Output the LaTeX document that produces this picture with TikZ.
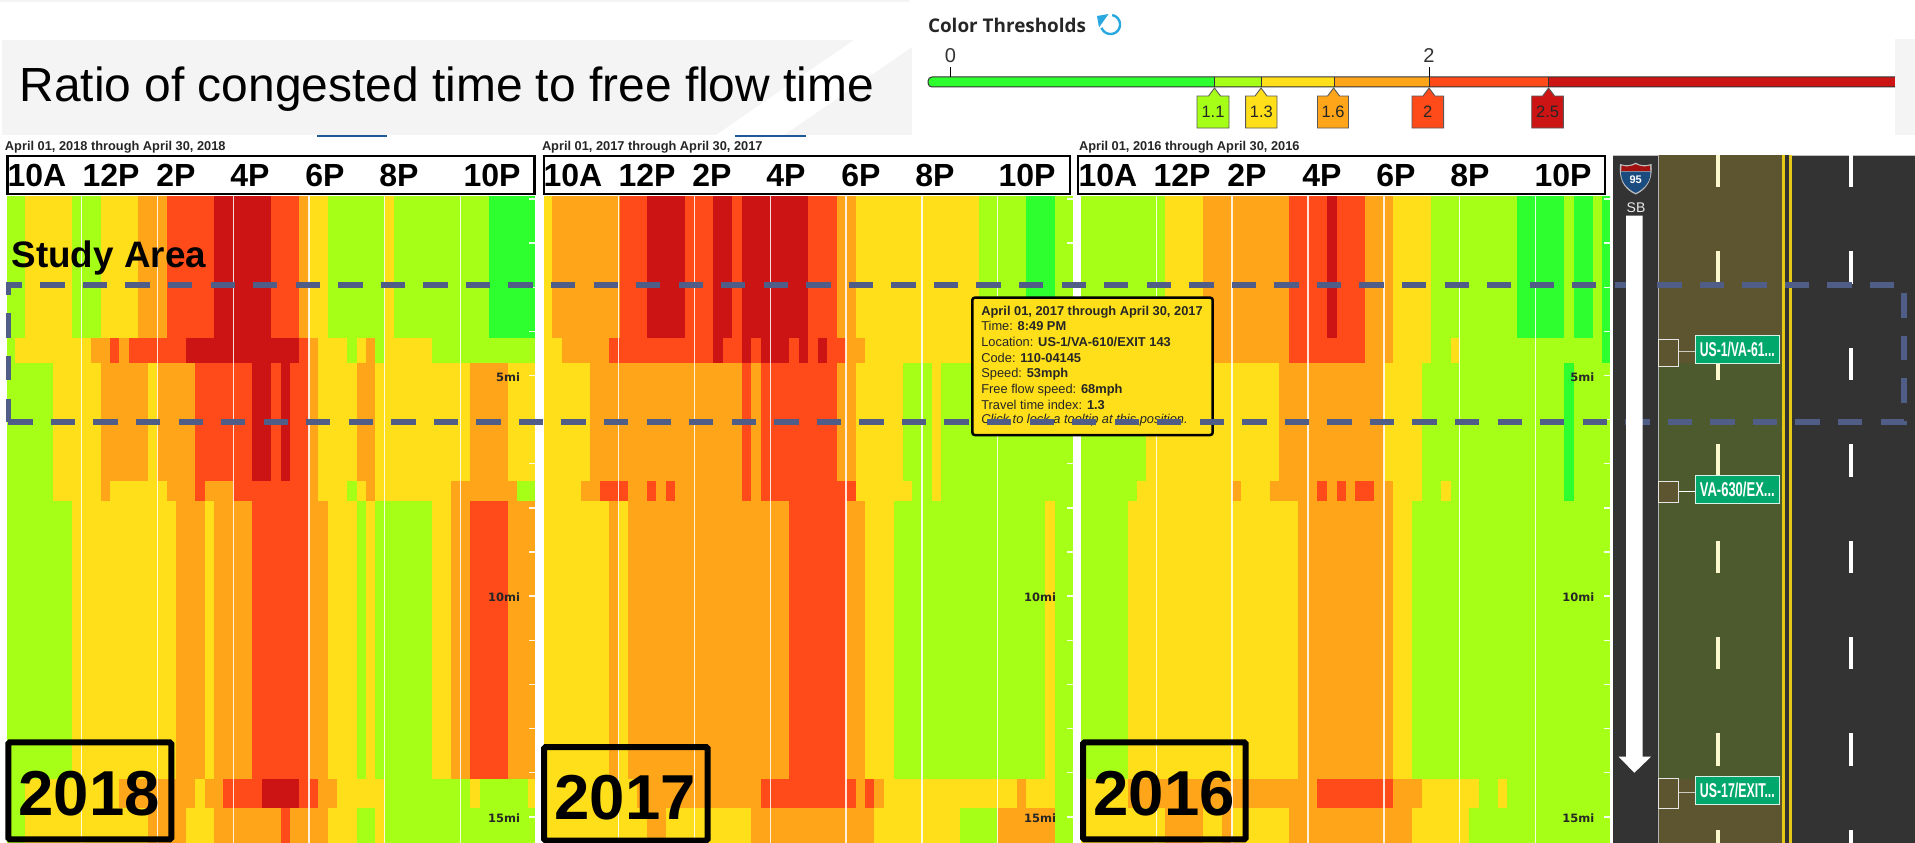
\documentclass[tikz,border=0pt]{standalone}
\usepackage{fontspec}
\setmainfont{Liberation Sans}
\newfontfamily\monofam{DejaVu Sans}
\newfontfamily\uifam{Open Sans}
\newcommand\fsz[1]{\fontsize{#1}{#1}\selectfont}
\definecolor{hL}{HTML}{A6FF17}
\definecolor{hY}{HTML}{FFDF1A}
\definecolor{hO}{HTML}{FFA51A}
\definecolor{hR}{HTML}{FF4A1A}
\definecolor{hD}{HTML}{CC1414}
\definecolor{hG}{HTML}{2EFF2E}
\definecolor{bannerc}{HTML}{F4F4F4}
\definecolor{tabc}{HTML}{1F5A96}
\definecolor{dashc}{HTML}{4F5D87}
\definecolor{roadc}{HTML}{333333}
\definecolor{olivea}{HTML}{5C5530}
\definecolor{oliveb}{HTML}{4D5A2E}
\definecolor{signc}{HTML}{00A86B}
\definecolor{iconc}{HTML}{29A8E0}
\definecolor{creamc}{HTML}{FAF8CC}
\newcommand\hrow[2]{\foreach \e/\c in {#2}{\fill[fill=h\c] ({\pO+\e/3},#1) rectangle (\pR,843);}}
\newcommand\tiprow[3]{\node[txt,anchor=base west,text=black!85] (tip#1) at (981.3,#2) {\fsz{12.85}#3};}
\tikzset{
  txt/.style={inner sep=0,outer sep=0},
  hdrbox/.style={draw=black,fill=white,line width=2.2,inner sep=0,outer sep=0,minimum height=38},
  hdrlab/.style={txt,anchor=base,font=\bfseries\fsz{32}},
  datelab/.style={txt,anchor=base west,font=\bfseries\fsz{12.8},text=black!85},
  milab/.style={txt,anchor=base east,font=\monofam\bfseries\fsz{11.5},text=black!85},
  yearbox/.style={draw=black,line width=6,rounded corners=1.5,inner sep=0,outer sep=0},
  yearlab/.style={txt,anchor=base west,font=\bfseries\fsz{63.5}},
  taglab/.style={txt,anchor=center,font=\fsz{16.5},text=black!85},
  signbox/.style={draw=white!85!signc,line width=1,fill=signc,text=white,inner sep=0,outer sep=0,minimum width=84,minimum height=28},
  bracket/.style={draw=white!90!black,line width=1,fill=olivea,inner sep=0,outer sep=0,minimum width=20.5},
}
\begin{document}
\begin{tikzpicture}[x=1pt,y=-1pt]
\clip (0,0) rectangle (1915,843);
\fill[white] (0,0) rectangle (1915,843);
% top strip and banner
\fill[bannerc] (0,0) rectangle (909,1.8);
\fill[bannerc] (2,40) rectangle (912,135);
\fill[white] (854,40) -- (716,135) -- (784,135) -- (912,47) -- (912,40) -- cycle;
\fill[bannerc] (1895,39) rectangle (1915,135);
\fill[tabc] (317,135) rectangle (387,137.2);
\fill[tabc] (735,135) rectangle (806,137.2);
\node[txt,anchor=base west,font=\fsz{47.9}] (title) at (19.5,102) {Ratio of congested time to free flow time};
% legend
\node[txt,anchor=base west,font=\uifam\bfseries\fsz{18.9},text=black!85] (legend) at (928,33) {Color Thresholds};
\draw[iconc,line width=2.4] plot[domain=-80:160,samples=30] ({1110.5+9.5*cos(\x)},{24.5+9.5*sin(\x)});
\fill[iconc] (1097,16) -- (1108.5,14) -- (1099,27.5) -- cycle;
% slider
\fill[hG,rounded corners=4] (928,77) rectangle (1220,87);
\fill[hL] (1214.5,77) rectangle (1261,87);
\fill[hY] (1261,77) rectangle (1334,87);
\fill[hO] (1334,77) rectangle (1429,87);
\fill[hR] (1429,77) rectangle (1548.5,87);
\fill[hD] (1548.5,77) rectangle (1895,87);
\draw[black!80,line width=1,rounded corners=4] (1895,77) -- (928,77) -- (928,87) -- (1895,87);
\foreach \x in {1214.5,1261,1334,1429,1548.5}{\draw[black!80,line width=0.8] (\x,77) -- (\x,87);}
\node[txt,anchor=base,font=\fsz{20},text=black!80] (lab0) at (950.5,63) {0};
\node[txt,anchor=base,font=\fsz{20},text=black!80] (lab2) at (1429,63) {2};
\draw[black,line width=1] (950.5,67) -- (950.5,77);
\draw[black,line width=1] (1429,67) -- (1429,77);
\foreach \ax/\l/\r/\c/\t in {1214.5/1197/1229/hL/1.1,1261/1245.6/1277/hY/1.3,1333.6/1317.5/1348.5/hO/1.6,1429/1412/1443.6/hR/2,1548.5/1531.7/1563.4/hD/2.5}{
  \filldraw[fill=\c,draw=black!65,line width=0.9] (\ax,88) -- ({\ax+6},96) -- (\r,96) -- (\r,128) -- (\l,128) -- (\l,96) -- ({\ax-6},96) -- cycle;
  \node[taglab] (tag\t) at ({(\l+\r)/2},112) {\t};
}
% panel 2018
\def\pO{0}\def\pR{535}
\hrow{195.7}{20/L,74/Y,216/L,302/Y,415/O,500/R,642/D,813/R,898/O,927/Y,984/L,1155/Y,1183/L,1467/G}
\hrow{338.3}{20/L,46/Y,273/O,330/R,358/O,386/R,557/D,898/R,927/O,955/Y,1041/L,1070/Y,1098/O,1126/L,1155/Y,1296/L}
\hrow{363.3}{20/L,159/Y,302/O,443/Y,472/O,586/R,756/D,813/R,842/D,870/R,927/O,955/Y,1070/O,1126/Y,1410/O,1524/Y}
\hrow{480.7}{20/L,159/Y,302/O,330/Y,500/O,586/R,614/O,699/R,927/O,955/Y,1041/L,1070/Y,1098/O,1126/Y,1353/O,1552/L}
\hrow{500.9}{20/L,216/Y,529/O,614/Y,642/O,756/R,927/O,984/Y,1070/L,1098/Y,1126/L,1296/Y,1353/O,1410/R,1524/O}
\hrow{778.7}{20/L,74/Y,358/O,586/Y,614/O,670/R,785/D,898/R,955/O,1012/Y,1155/L,1410/Y,1439/L,1583/Y}
\hrow{807.7}{20/L,74/Y,443/O,557/Y,642/O,842/R,870/O,984/Y,1070/L,1126/Y,1155/L}
% panel 2017
\def\pO{540}\def\pR{1073}
\hrow{195.7}{12/Y,36/O,240/R,321/D,435/R,520/D,577/R,605/D,805/R,890/O,947/Y,1317/L,1458/G,1546/L}
\hrow{338.3}{12/Y,65/O,207/R,520/D,548/R,605/D,634/R,662/D,747/R,776/D,805/R,833/D,862/R,918/O,975/Y,1317/L}
\hrow{363.3}{12/Y,150/O,605/R,634/O,662/R,890/O,947/Y,1089/L,1175/Y,1203/L}
\hrow{480.7}{12/Y,122/O,179/R,264/O,321/R,349/O,378/R,406/O,605/R,634/O,662/R,947/Y,1117/L,1175/Y,1203/L}
\hrow{500.9}{12/Y,207/O,236/Y,264/O,747/R,918/O,975/Y,1061/L,1516/Y,1546/L}
\hrow{778.7}{12/Y,292/O,662/R,947/O,975/R,1003/O,1032/Y,1430/O,1458/Y,1546/L}
\hrow{807.7}{12/Y,321/O,378/Y,634/O,1003/Y,1260/L,1373/O,1546/L}
% panel 2016
\def\pO{1080}\def\pR{1610}
\hrow{195.7}{3/L,256/Y,370/O,626/R,740/D,770/R,855/O,940/Y,1054/L,1311/G,1452/L,1481/G,1540/L,1566/G}
\hrow{338.3}{3/L,256/Y,370/O,626/R,855/O,940/Y,1054/L,1112/Y,1140/L,1566/G}
\hrow{363.3}{3/L,199/Y,598/O,912/Y,1026/L,1452/G,1481/L}
\hrow{480.7}{3/L,171/Y,456/O,484/Y,570/O,711/R,740/O,770/R,798/O,826/R,883/O,940/Y,1026/L,1083/Y,1112/L,1452/G,1481/L}
\hrow{500.9}{3/L,143/Y,655/O,940/Y,997/L}
\hrow{778.7}{3/Y,143/O,711/R,940/O,1026/Y,1197/L,1254/Y,1282/L}
\hrow{807.7}{3/Y,256/O,370/Y,427/O,456/Y,626/O,997/Y,1168/L}
% gridlines
\foreach \x in {81.7,157.5,233.3,309,384.7,460.3,618.7,694.7,770.3,846,922,997.7,1156.3,1232,1308,1384,1459.7,1535.7}{
  \draw[white,line width=1.2,opacity=.85] (\x,195.7) -- (\x,843);
}
% ticks
\foreach \k in {0,...,14}{
  \foreach \r in {535,1073,1610}{
    \draw[white,line width=1.4,opacity=.9] ({\r-6},{199+44.13*\k}) -- (\r,{199+44.13*\k});
  }
}
\node[milab] (m5a) at (520,381) {5mi};
\node[milab] (m10a) at (520,601.7) {10mi};
\node[milab] (m15a) at (520,822.3) {15mi};
\node[milab] (m10b) at (1056,601.7) {10mi};
\node[milab] (m15b) at (1056,822.3) {15mi};
\node[milab] (m5c) at (1594.3,381) {5mi};
\node[milab] (m10c) at (1594.3,601.7) {10mi};
\node[milab] (m15c) at (1594.3,822.3) {15mi};
% dates
\node[datelab] (d18) at (5,150.5) {April 01, 2018 through April 30, 2018};
\node[datelab] (d17) at (542,150.5) {April 01, 2017 through April 30, 2017};
\node[datelab] (d16) at (1079,150.5) {April 01, 2016 through April 30, 2016};
% header boxes
\node[hdrbox,minimum width=527] (hA) at (271,175) {};
\node[hdrbox,minimum width=526] (hB) at (807,175) {};
\node[hdrbox,minimum width=527] (hC) at (1341.5,175) {};
\foreach \n/\x/\t in {a1/37/10A,a2/111/12P,a3/176/2P,a4/250/4P,a5/325/6P,a6/399/8P,a7/492/10P,
  b1/573/10A,b2/647/12P,b3/712/2P,b4/786/4P,b5/861/6P,b6/935/8P,b7/1027/10P,
  c1/1108/10A,c2/1182/12P,c3/1247/2P,c4/1322/4P,c5/1396/6P,c6/1470/8P,c7/1563/10P}{
  \node[hdrlab] (h\n) at (\x,186.5) {\t};
}
\node[txt,anchor=base west,font=\bfseries\fsz{36.8}] (study) at (11.7,267.3) {Study Area};
% road
\fill[roadc] (1612.5,155) rectangle (1915,843);
\draw[white!75!black,line width=1] (1612.5,155) -- (1915,155);
\fill[olivea] (1658,155) rectangle (1781.7,843);
\fill[oliveb] (1658,363.3) rectangle (1781.7,778.7);
\draw[white!70!black,line width=1] (1658,155) -- (1658,843);
\fill[white!50!black] (1781.7,155) rectangle (1792,843);
\fill[roadc] (1785,155) rectangle (1789,843);
\fill[hY!90!black] (1781.7,155) rectangle (1785,843);
\fill[hY!90!black] (1789,155) rectangle (1791.8,843);
\foreach \k in {0,...,7}{
  \fill[creamc] (1716.2,{155+96.4*\k}) rectangle (1719.8,{155+96.4*\k+32.3});
  \fill[white] (1849.3,{155+96.4*\k}) rectangle (1853.3,{155+96.4*\k+32.3});
}
% exit brackets and signs
\node[bracket,minimum height=27.4,anchor=north west] (b1) at (1658.3,339.3) {};
\node[bracket,minimum height=21.7,anchor=north west] (b2) at (1658.3,481) {};
\node[bracket,minimum height=29.6,anchor=north west] (b3) at (1658.3,778.7) {};
\node[signbox,anchor=north west] (s1) at (1695.3,335.3) {\resizebox{75pt}{14.5pt}{\bfseries US-1/VA-61...}};
\node[signbox,anchor=north west] (s2) at (1695.3,475) {\resizebox{75pt}{14.5pt}{\bfseries VA-630/EX...}};
\node[signbox,anchor=north west] (s3) at (1695.3,776.7) {\resizebox{75pt}{14.5pt}{\bfseries US-17/EXIT...}};
\coordinate (c1) at (b1.east |- 0,351.7);
\coordinate (c2) at (b2.east |- 0,491.3);
\coordinate (c3) at (b3.east |- 0,792.7);
\draw[white!70!olivea,line width=1.2] (c1) -- (c1 -| s1.west);
\draw[white,line width=1.2] (c2) -- (c2 -| s2.west);
\draw[white!70!olivea,line width=1.2] (c3) -- (c3 -| s3.west);
% shield
\fill[white!75!black] (1620,164) .. controls (1626,166) and (1631,165.5) .. (1635.7,162.7) .. controls (1640,165.5) and (1645,166) .. (1651.5,164) .. controls (1653,178) and (1648,189) .. (1635.7,194.5) .. controls (1623,189) and (1618.5,178) .. (1620,164) -- cycle;
\fill[hD!80!black] (1621.5,165.5) .. controls (1626,167) and (1631,166.5) .. (1635.7,164.2) .. controls (1640,166.5) and (1645,167) .. (1650,165.5) -- (1650.3,171) -- (1621.2,171) -- cycle;
\fill[tabc!85!black] (1621.2,171.5) -- (1650.3,171.5) .. controls (1651,180) and (1646,188) .. (1635.7,193) .. controls (1625.5,188) and (1620.5,180) .. (1621.2,171.5) -- cycle;
\node[txt,font=\bfseries\fsz{11},text=white] (i95) at (1635.7,180) {95};
\node[txt,anchor=base,font=\fsz{14},text=white!92!black] (sb) at (1636,212) {SB};
% tooltip
\node[draw=black,line width=2.5,fill=hY,rounded corners=2.5,inner sep=0,outer sep=0,anchor=north west,minimum width=240.4,minimum height=137.3] (tipbox) at (972.3,297.7) {};
\tiprow{1}{315.7}{\textbf{April 01, 2017 through April 30, 2017}}
\tiprow{2}{330.7}{Time: \textbf{8:49 PM}}
\tiprow{3}{346.7}{Location: \textbf{US-1/VA-610/EXIT 143}}
\tiprow{4}{362.3}{Code: \textbf{110-04145}}
\tiprow{5}{377.7}{Speed: \textbf{53mph}}
\tiprow{6}{393.3}{Free flow speed: \textbf{68mph}}
\tiprow{7}{409}{Travel time index: \textbf{1.3}}
\tiprow{8}{423.7}{\itshape Click to lock a tooltip at this position.}
% year boxes
\draw[yearbox] (8.3,742.3) rectangle (171.3,839.3);
\draw[yearbox] (544,747) rectangle (707.7,840.5);
\draw[yearbox] (1083,742.3) rectangle (1245.7,839.3);
\node[yearlab] (y18) at (18.5,815) {2018};
\node[yearlab] (y17) at (554.5,819.3) {2017};
\node[yearlab] (y16) at (1093.5,815) {2016};
% study area
\draw[dashc,line width=5.6,dash pattern=on 24.3pt off 18.25pt] (8.3,421.7) -- (1904,421.7) -- (1904,284.7) -- (8.3,284.7) -- cycle;
% direction arrow
\fill[white] (1626,215.7) -- (1642.7,215.7) -- (1642.7,756.7) -- (1651,756.7) -- (1634.4,772.7) -- (1618.5,756.7) -- (1626,756.7) -- cycle;
\end{tikzpicture}
\end{document}
